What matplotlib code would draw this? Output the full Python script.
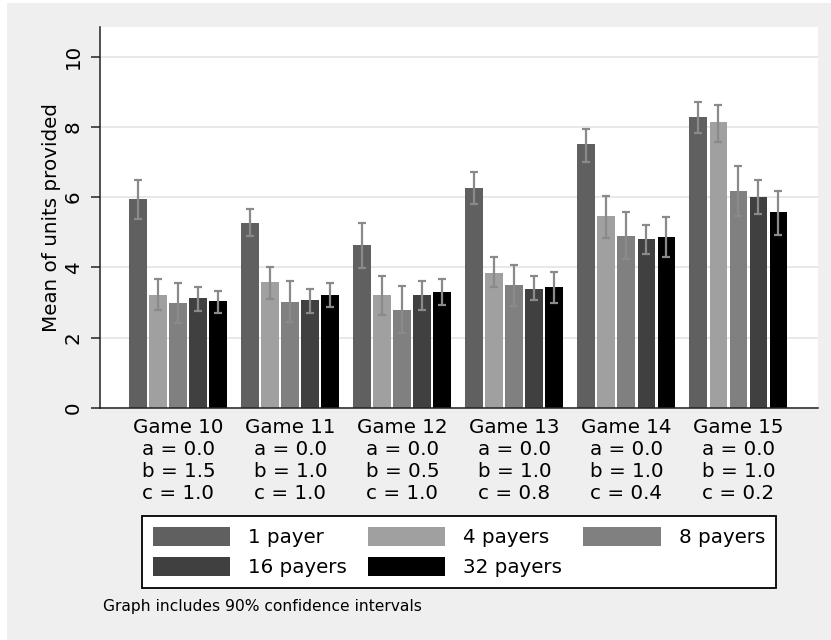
import matplotlib
matplotlib.use("Agg")
import matplotlib.pyplot as plt
from matplotlib.patches import Patch, Rectangle
import numpy as np

# ---- data -------------------------------------------------------------
games = ["Game 10", "Game 11", "Game 12", "Game 13", "Game 14", "Game 15"]
a_par = [0.0, 0.0, 0.0, 0.0, 0.0, 0.0]
b_par = [1.5, 1.0, 0.5, 1.0, 1.0, 1.0]
c_par = [1.0, 1.0, 1.0, 0.8, 0.4, 0.2]

series = ["1 payer", "4 payers", "8 payers", "16 payers", "32 payers"]

mean_1 = [5.96, 5.26, 4.63, 6.26, 7.50, 8.27]
mean_4 = [3.21, 3.58, 3.21, 3.85, 5.45, 8.13]
mean_8 = [2.99, 3.03, 2.80, 3.49, 4.90, 6.17]
mean_16 = [3.13, 3.08, 3.21, 3.39, 4.80, 5.99]
mean_32 = [3.04, 3.21, 3.30, 3.45, 4.86, 5.58]

hi_1 = [6.49, 5.66, 5.25, 6.71, 7.93, 8.71]
hi_4 = [3.66, 4.02, 3.75, 4.30, 6.02, 8.62]
hi_8 = [3.57, 3.61, 3.47, 4.07, 5.57, 6.89]
hi_16 = [3.43, 3.38, 3.61, 3.75, 5.21, 6.49]
hi_32 = [3.34, 3.57, 3.66, 3.88, 5.43, 6.16]

lo_1 = [5.39, 4.90, 3.97, 5.80, 6.99, 7.81]
lo_4 = [2.79, 3.11, 2.65, 3.43, 4.84, 7.58]
lo_8 = [2.41, 2.45, 2.13, 2.91, 4.23, 5.45]
lo_16 = [2.75, 2.70, 2.79, 3.07, 4.39, 5.52]
lo_32 = [2.70, 2.88, 2.93, 2.98, 4.29, 4.93]

means = [mean_1, mean_4, mean_8, mean_16, mean_32]
highs = [hi_1, hi_4, hi_8, hi_16, hi_32]
lows = [lo_1, lo_4, lo_8, lo_16, lo_32]

yticks = [0, 2, 4, 6, 8, 10]
ylabel = "Mean of units provided"
note = "Graph includes 90% confidence intervals"

# ---- style ------------------------------------------------------------
bar_colors = ["#606060", "#a0a0a0", "#808080", "#404040", "#000000"]
ci_color = "#8a8a8a"
bg = "#efefef"
FS = 14.3

plt.rcParams["font.family"] = ["DejaVu Sans"]

fig = plt.figure(figsize=(8.31, 6.40), dpi=100, facecolor="white")
fig.patches.append(Rectangle((7 / 831, 0), 1, 1 - 3 / 640,
                             transform=fig.transFigure, facecolor=bg,
                             edgecolor="none", zorder=-10))

ax = fig.add_axes([100 / 831, 1 - 408 / 640, 718 / 831, 381 / 640])
ax.set_facecolor("white")

slot = 0.1786
width = 0.16
x = np.arange(len(games))
for i, (m, hi, lo, col) in enumerate(zip(means, highs, lows, bar_colors)):
    xs = x + (i - 2) * slot
    m = np.array(m)
    ax.bar(xs, m, width=width, color=col, edgecolor="none", zorder=2,
           label=series[i])
    ax.errorbar(xs, m, yerr=[m - np.array(lo), np.array(hi) - m],
                fmt="none", ecolor=ci_color, elinewidth=1.6, capsize=3,
                capthick=1.6, zorder=3)

ax.set_xlim(-0.70, 5.71)
ax.set_ylim(0, 10.84)
ax.set_yticks(yticks)
ax.set_yticklabels([str(t) for t in yticks], fontsize=FS, rotation=90,
                   va="center")
ax.yaxis.grid(True, color="#e8e8e8", linewidth=1.4, zorder=0)
ax.set_axisbelow(True)

tick_labels = [f"{g}\na = {a:.1f}\nb = {b:.1f}\nc = {c:.1f}"
               for g, a, b, c in zip(games, a_par, b_par, c_par)]
ax.set_xticks(x)
ax.set_xticklabels(tick_labels, fontsize=FS, linespacing=1.2)
ax.tick_params(axis="x", length=0, pad=7.5)
ax.tick_params(axis="y", length=6.5, width=1.1, pad=6, color="#222222")

for s in ["top", "right"]:
    ax.spines[s].set_visible(False)
for s in ["left", "bottom"]:
    ax.spines[s].set_linewidth(1.1)
    ax.spines[s].set_color("#222222")

ax.set_ylabel(ylabel, fontsize=FS, labelpad=2)

# legend, filled row by row
order = [0, 3, 1, 4, 2]
handles = [Patch(facecolor=bar_colors[k], edgecolor="none") for k in order]
labels = [series[k] for k in order]
leg = fig.legend(handles, labels, ncol=3, loc="upper left",
                 bbox_to_anchor=(142 / 831, 1 - 516 / 640),
                 borderaxespad=0,
                 fontsize=FS, handlelength=3.9, handleheight=1.1,
                 handletextpad=0.9, columnspacing=1.05, labelspacing=0.5,
                 borderpad=0.55, fancybox=False, framealpha=1,
                 edgecolor="black")
leg.get_frame().set_linewidth(1.3)

fig.text(103 / 831, 1 - 606 / 640, note, fontsize=11.2, va="center",
         ha="left")

fig.savefig("out.png", dpi=100, facecolor=fig.get_facecolor())
